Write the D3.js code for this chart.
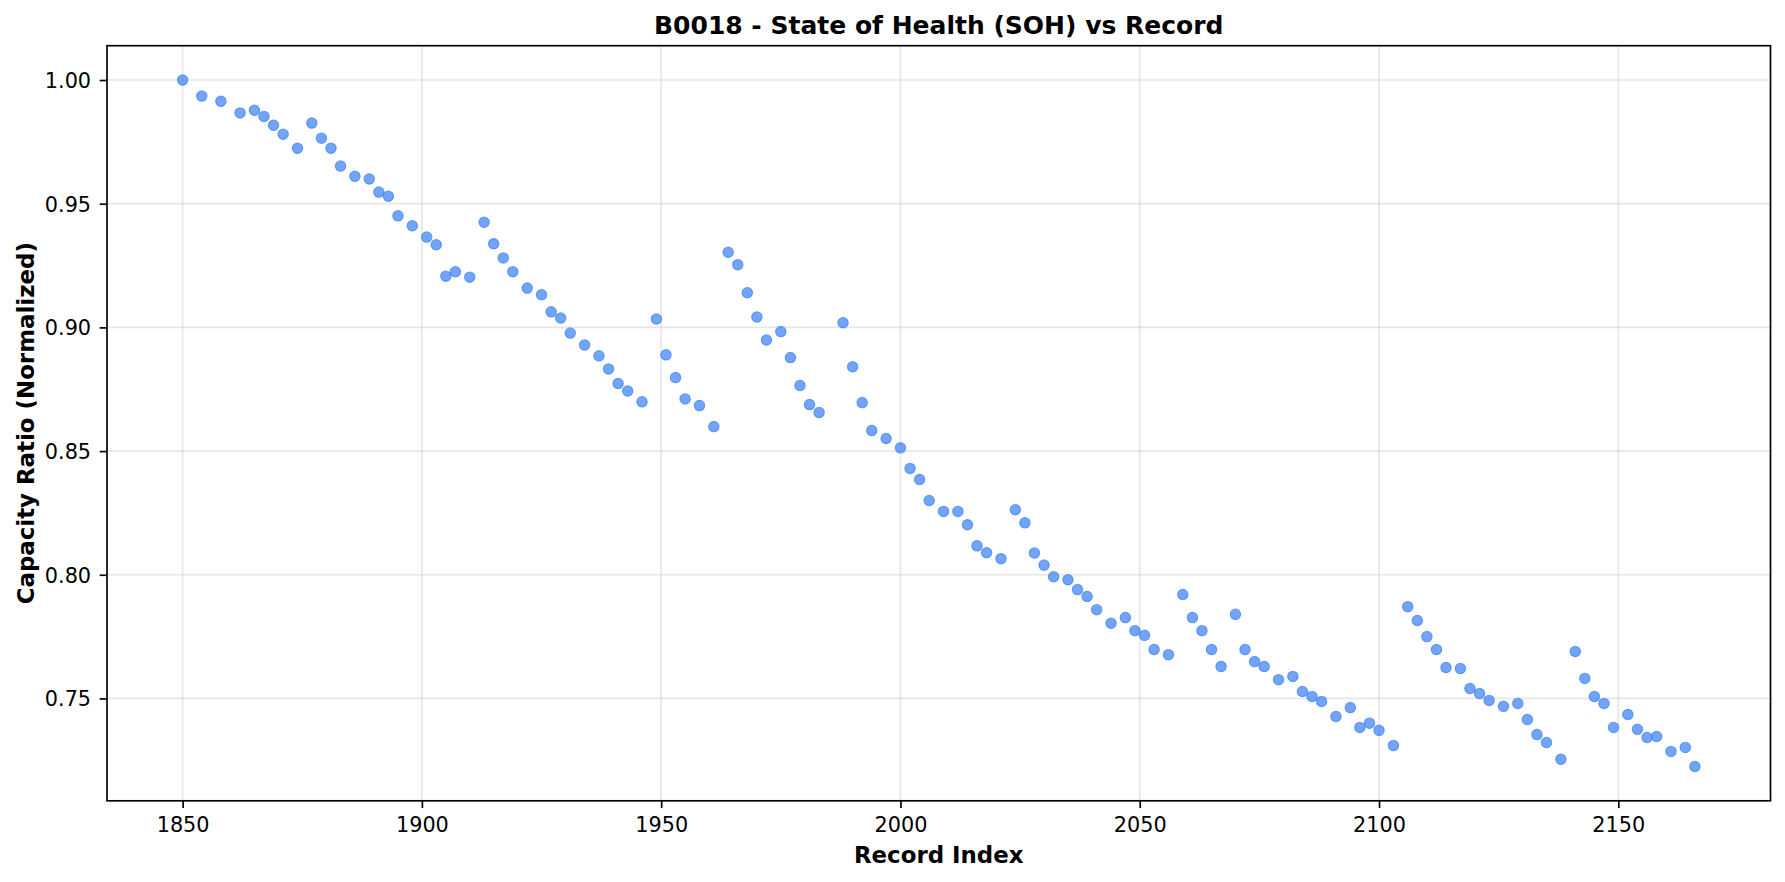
<!DOCTYPE html>
<html>
<head>
<meta charset="utf-8">
<script src="https://cdn.jsdelivr.net/npm/d3@7"></script>
<style>
  html, body { margin: 0; padding: 0; background: #fff; }
  svg { display: block; font-family: "DejaVu Sans", sans-serif; }
</style>
</head>
<body>
<svg id="chart" width="1785" height="882"></svg>
<script>
// === B0018 SOH scatter ===

// Record index of each discharge record
const recordIndex = [
  1850, 1854, 1858, 1862, 1865, 1867, 1869, 1871, 1874, 1877, 1879, 1881, 1883, 1886, 1889, 1891,
  1893, 1895, 1898, 1901, 1903, 1905, 1907, 1910, 1913, 1915, 1917, 1919, 1922, 1925, 1927, 1929,
  1931, 1934, 1937, 1939, 1941, 1943, 1946, 1949, 1951, 1953, 1955, 1958, 1961, 1964, 1966, 1968,
  1970, 1972, 1975, 1977, 1979, 1981, 1983, 1988, 1990, 1992, 1994, 1997, 2000, 2002, 2004, 2006,
  2009, 2012, 2014, 2016, 2018, 2021, 2024, 2026, 2028, 2030, 2032, 2035, 2037, 2039, 2041, 2044,
  2047, 2049, 2051, 2053, 2056, 2059, 2061, 2063, 2065, 2067, 2070, 2072, 2074, 2076, 2079, 2082,
  2084, 2086, 2088, 2091, 2094, 2096, 2098, 2100, 2103, 2106, 2108, 2110, 2112, 2114, 2117, 2119,
  2121, 2123, 2126, 2129, 2131, 2133, 2135, 2138, 2141, 2143, 2145, 2147, 2149, 2152, 2154, 2156,
  2158, 2161, 2164, 2166
];

// Capacity ratio (normalized to first record)
const sohValues = [
  1.0000, 0.9935, 0.9914, 0.9867, 0.9878, 0.9853, 0.9817, 0.9781, 0.9724, 0.9826, 0.9765, 0.9724, 0.9652, 0.9611, 0.9600, 0.9547,
  0.9530, 0.9451, 0.9411, 0.9365, 0.9334, 0.9207, 0.9225, 0.9203, 0.9425, 0.9338, 0.9281, 0.9225, 0.9159, 0.9132, 0.9063, 0.9038,
  0.8977, 0.8929, 0.8885, 0.8832, 0.8773, 0.8743, 0.8699, 0.9034, 0.8889, 0.8797, 0.8711, 0.8684, 0.8599, 0.9304, 0.9253, 0.9140,
  0.9042, 0.8949, 0.8983, 0.8878, 0.8765, 0.8688, 0.8656, 0.9019, 0.8841, 0.8696, 0.8583, 0.8551, 0.8513, 0.8430, 0.8385, 0.8300,
  0.8256, 0.8256, 0.8202, 0.8117, 0.8089, 0.8065, 0.8263, 0.8210, 0.8088, 0.8039, 0.7992, 0.7980, 0.7940, 0.7912, 0.7859, 0.7804,
  0.7827, 0.7774, 0.7755, 0.7698, 0.7677, 0.7920, 0.7827, 0.7774, 0.7698, 0.7629, 0.7840, 0.7698, 0.7649, 0.7629, 0.7576, 0.7589,
  0.7528, 0.7508, 0.7488, 0.7427, 0.7463, 0.7383, 0.7400, 0.7371, 0.7310, 0.7871, 0.7815, 0.7750, 0.7698, 0.7625, 0.7621, 0.7540,
  0.7520, 0.7492, 0.7468, 0.7480, 0.7415, 0.7354, 0.7322, 0.7254, 0.7690, 0.7581, 0.7508, 0.7480, 0.7383, 0.7435, 0.7375, 0.7342,
  0.7346, 0.7286, 0.7302, 0.7225
];

const xTicks = [1850, 1900, 1950, 2000, 2050, 2100, 2150];
const yTicks = [0.75, 0.80, 0.85, 0.90, 0.95, 1.00];

const titleText = "B0018 - State of Health (SOH) vs Record";
const xLabelText = "Record Index";
const yLabelText = "Capacity Ratio (Normalized)";

// axes box in pixels
const plot = { left: 107, right: 1770.5, top: 45.7, bottom: 800.8 };
const pointColor = "#3b82f6";

function drawChart() {
  const svg = d3.select("#chart");
  svg.selectAll("*").remove();

  const points = recordIndex.map((r, i) => ({ x: r, y: sohValues[i] }));

  // matplotlib-style 5% margins around the data
  const pad = (ext) => { const d = (ext[1] - ext[0]) * 0.05; return [ext[0] - d, ext[1] + d]; };

  const x = d3.scaleLinear()
    .domain(pad(d3.extent(recordIndex)))
    .range([plot.left, plot.right]);

  const y = d3.scaleLinear()
    .domain(pad(d3.extent(sohValues)))
    .range([plot.bottom, plot.top]);

  // grid
  const grid = svg.append("g").attr("class", "grid");
  grid.selectAll("line.vx")
    .data(xTicks)
    .enter()
    .append("line")
    .attr("x1", d => x(d)).attr("x2", d => x(d))
    .attr("y1", plot.top).attr("y2", plot.bottom)
    .attr("stroke", "#b0b0b0").attr("stroke-opacity", 0.3).attr("stroke-width", 1.67);
  grid.selectAll("line.hy")
    .data(yTicks)
    .enter()
    .append("line")
    .attr("x1", plot.left).attr("x2", plot.right)
    .attr("y1", d => y(d)).attr("y2", d => y(d))
    .attr("stroke", "#b0b0b0").attr("stroke-opacity", 0.3).attr("stroke-width", 1.67);

  // points
  svg.append("g")
    .selectAll("circle")
    .data(points)
    .enter()
    .append("circle")
    .attr("cx", d => x(d.x))
    .attr("cy", d => y(d.y))
    .attr("r", 5.2)
    .attr("fill", pointColor)
    .attr("fill-opacity", 0.72)
    .attr("stroke", pointColor)
    .attr("stroke-opacity", 0.72)
    .attr("stroke-width", 1.1);

  // axes
  const xAxis = svg.append("g")
    .attr("transform", `translate(0,${plot.bottom})`)
    .call(d3.axisBottom(x).tickValues(xTicks).tickFormat(d3.format("d")).tickSize(7.3).tickPadding(8.9));

  const yAxis = svg.append("g")
    .attr("transform", `translate(${plot.left},0)`)
    .call(d3.axisLeft(y).tickValues(yTicks).tickFormat(d3.format(".2f")).tickSize(7.3).tickPadding(8.6));

  [xAxis, yAxis].forEach(ax => {
    ax.select(".domain").remove();
    ax.selectAll(".tick line").attr("stroke", "#000").attr("stroke-width", 1.67);
    ax.selectAll(".tick text")
      .attr("fill", "#000")
      .style("font-family", "'DejaVu Sans', sans-serif")
      .style("font-size", "20.8px");
  });
  yAxis.selectAll(".tick text").attr("dy", "0.36em");

  // spines
  svg.append("rect")
    .attr("x", plot.left)
    .attr("y", plot.top)
    .attr("width", plot.right - plot.left)
    .attr("height", plot.bottom - plot.top)
    .attr("fill", "none")
    .attr("stroke", "#000")
    .attr("stroke-width", 1.67);

  // title + labels
  svg.append("text")
    .attr("x", (plot.left + plot.right) / 2)
    .attr("y", 33.5)
    .attr("text-anchor", "middle")
    .attr("font-size", 25)
    .attr("font-weight", "bold")
    .text(titleText);

  svg.append("text")
    .attr("x", (plot.left + plot.right) / 2)
    .attr("y", 862.5)
    .attr("text-anchor", "middle")
    .attr("font-size", 22.9)
    .attr("font-weight", "bold")
    .text(xLabelText);

  svg.append("text")
    .attr("transform", `translate(34,${(plot.top + plot.bottom) / 2}) rotate(-90)`)
    .attr("text-anchor", "middle")
    .attr("font-size", 22.9)
    .attr("font-weight", "bold")
    .text(yLabelText);
}

window.onload = () => drawChart();
</script>
</body>
</html>
